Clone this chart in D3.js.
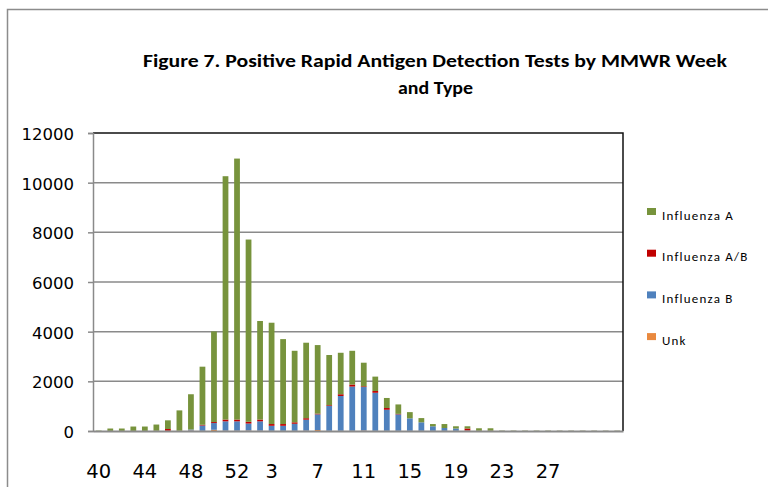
<!DOCTYPE html>
<html>
<head>
<meta charset="utf-8">
<script src="https://cdn.jsdelivr.net/npm/d3@7"></script>
<style>
  body { margin: 0; background: #fff; }
  text { font-family: Carlito, Calibri, Lato, "DejaVu Sans", sans-serif; fill: #000; }
</style>
</head>
<body>
<script>
// MMWR weeks 40..52 then 1..33
var weeks = [40,41,42,43,44,45,46,47,48,49,50,51,52,
  1,2,3,4,5,6,7,8,9,10,11,12,13,14,15,16,17,18,19,20,21,22,23,24,25,26,27,28,29,30,31,32,33];

var fluA  = [15,95,95,175,175,250,350,820,1420,2340,3650,9800,10510,7340,3970,4080,3420,2880,3040,2760,2020,1670,1360,950,580,405,380,250,170,90,160,90,90,100,100,10,10,10,10,10,8,8,8,8,8,8];
var fluAB = [0,0,0,0,0,0,70,0,0,30,40,70,70,70,70,70,70,60,60,30,30,70,80,30,70,70,20,0,0,0,0,0,80,0,0,0,0,0,0,0,0,0,0,0,0,0];
var fluB  = [0,0,0,0,0,0,0,0,40,210,270,375,375,280,375,200,200,280,440,630,1000,1400,1780,1750,1530,845,660,500,340,180,110,90,10,0,0,5,5,5,5,5,5,5,5,5,5,5];
var unk   = [0,5,5,5,5,10,10,10,20,10,50,15,15,20,15,10,10,10,15,40,10,10,10,20,10,10,10,10,10,10,10,10,10,10,10,5,5,5,5,5,5,5,5,5,5,5];

var seriesNames = ["Influenza A", "Influenza A/B", "Influenza B", "Unk"];
var seriesColors = {"Influenza A": "#77933C", "Influenza A/B": "#C00000", "Influenza B": "#4F81BD", "Unk": "#E9893F"};
var yTicks = [0, 2000, 4000, 6000, 8000, 10000, 12000];
var xLabelWeeks = [40, 44, 48, 52, 3, 7, 11, 15, 19, 23, 27];

var W = 768, H = 487;
var plot = {left: 93, top: 133, right: 623, bottom: 431};

var svg = d3.select("body").append("svg")
  .attr("width", W)
  .attr("height", H);

// outer chart frame (runs off the picture at right and bottom)
svg.append("rect")
  .attr("x", 7.5).attr("y", 9.5)
  .attr("width", 900).attr("height", 600)
  .attr("fill", "none")
  .attr("stroke", "#8c8c8c")
  .attr("stroke-width", 1.5);

var rows = weeks.map(function(w, i) {
  return {week: w, "Unk": unk[i], "Influenza B": fluB[i], "Influenza A/B": fluAB[i], "Influenza A": fluA[i]};
});

var x = d3.scaleBand()
  .domain(weeks)
  .range([plot.left, plot.right])
  .paddingInner(0.5)
  .paddingOuter(0.25);

var y = d3.scaleLinear()
  .domain([0, 12000])
  .range([plot.bottom, plot.top]);

// gridlines
svg.append("g")
  .selectAll("line")
  .data(yTicks.slice(1, -1))
  .enter()
  .append("line")
    .attr("x1", plot.left).attr("x2", plot.right)
    .attr("y1", function(d) { return y(d); })
    .attr("y2", function(d) { return y(d); })
    .attr("stroke", "#8a8a8a")
    .attr("stroke-width", 1.5);

// plot border top and right
svg.append("path")
  .attr("d", "M" + plot.left + "," + plot.top + "H" + plot.right + "V" + plot.bottom)
  .attr("fill", "none")
  .attr("stroke", "#111")
  .attr("stroke-width", 1.5);

// stacked bars, bottom to top: Unk, B, A/B, A
var stack = d3.stack().keys(["Unk", "Influenza B", "Influenza A/B", "Influenza A"]);
var layers = stack(rows);

svg.append("g")
  .selectAll("g")
  .data(layers)
  .enter()
  .append("g")
    .attr("fill", function(d) { return seriesColors[d.key]; })
  .selectAll("rect")
  .data(function(d) { return d; })
  .enter()
  .append("rect")
    .attr("x", function(d) { return x(d.data.week); })
    .attr("width", x.bandwidth())
    .attr("y", function(d) { return y(d[1]); })
    .attr("height", function(d) { return y(d[0]) - y(d[1]); });

// y axis
var yAxis = svg.append("g")
  .attr("transform", "translate(" + plot.left + ",0)")
  .call(d3.axisLeft(y).tickValues(yTicks).tickSize(5).tickPadding(14).tickFormat(d3.format("d")));
yAxis.select(".domain").attr("stroke", "#8a8a8a").attr("stroke-width", 1.5);
yAxis.selectAll(".tick line").attr("stroke", "#8a8a8a").attr("stroke-width", 1.5);
yAxis.selectAll(".tick text")
  .style("font-family", "'DejaVu Sans', sans-serif")
  .style("font-size", "16.5px")
  .attr("dy", "0.4em")
  .attr("fill", "#000");

// x axis
var xAxis = svg.append("g")
  .attr("transform", "translate(0," + plot.bottom + ")")
  .call(d3.axisBottom(x).tickValues(xLabelWeeks).tickSize(0).tickPadding(0));
xAxis.select(".domain").attr("stroke", "#8a8a8a").attr("stroke-width", 2);
xAxis.selectAll(".tick text")
  .attr("y", 47).attr("dy", 0)
  .style("font-family", "'DejaVu Sans', sans-serif")
  .style("font-size", "19.5px")
  .attr("fill", "#000");

// title
var title = svg.append("g").style("font-weight", "bold");
title.append("text")
  .attr("x", 143).attr("y", 67)
  .attr("textLength", 584)
  .attr("lengthAdjust", "spacingAndGlyphs")
  .style("font-size", "19px")
  .text("Figure 7. Positive Rapid Antigen Detection Tests by MMWR Week");
title.append("text")
  .attr("x", 398).attr("y", 94)
  .attr("textLength", 75)
  .attr("lengthAdjust", "spacingAndGlyphs")
  .style("font-size", "19px")
  .text("and Type");

// legend
var legend = svg.append("g")
  .selectAll("g")
  .data(seriesNames)
  .enter()
  .append("g")
    .attr("transform", function(d, i) { return "translate(647," + (215 + i * 41.7) + ")"; });
legend.append("rect")
  .attr("x", 0).attr("y", -7)
  .attr("width", 9).attr("height", 7)
  .attr("fill", function(d) { return seriesColors[d]; });
legend.append("text")
  .attr("x", 15).attr("y", 0)
  .attr("dy", "0.35em")
  .style("font-size", "13px")
  .style("letter-spacing", "1.2px")
  .text(function(d) { return d; });
</script>
</body>
</html>
